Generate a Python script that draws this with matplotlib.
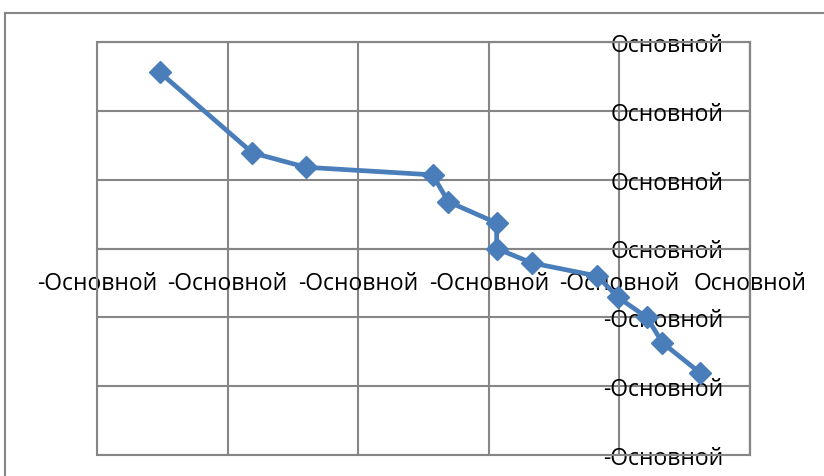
import matplotlib.pyplot as plt
from matplotlib.patches import Rectangle
from matplotlib.lines import Line2D

# points
x_vals = [-4.52, -3.81, -3.40, -2.43, -2.31, -1.94, -1.94, -1.67, -1.17, -1.01, -0.79, -0.67, -0.38]
y_vals = [2.56, 1.39, 1.18, 1.07, 0.68, 0.37, 0.0, -0.21, -0.40, -0.71, -1.00, -1.37, -1.81]

x_ticks = [-5, -4, -3, -2, -1, 0]
x_labels = ['-Основной', '-Основной', '-Основной', '-Основной', '-Основной', 'Основной']
y_ticks = [-3, -2, -1, 0, 1, 2, 3]
y_labels = ['-Основной', '-Основной', '-Основной', 'Основной', 'Основной', 'Основной', 'Основной']

plt.rcParams['font.family'] = ['Open Sans', 'DejaVu Sans']

grid_col = '#868686'
line_col = '#4A7EBB'

fig = plt.figure(figsize=(8.24, 4.77), dpi=100)

# outer chart border: only top and left edges show, the rest is off the picture
bx = 5 / 824
by = 1 - 14 / 477
fig.lines.append(Line2D([bx, 1.0], [by, by], transform=fig.transFigure,
                        color=grid_col, linewidth=1.5))
fig.lines.append(Line2D([bx, bx], [0.0, by], transform=fig.transFigure,
                        color=grid_col, linewidth=1.5))

ax = fig.add_axes([97 / 824, 21 / 477, 653 / 824, 413 / 477])
ax.set_xlim(-5, 0)
ax.set_ylim(-3, 3)

ax.plot(x_vals, y_vals, color=line_col, linewidth=3.4, marker='D',
        markersize=11.5, markerfacecolor=line_col, markeredgecolor=line_col,
        zorder=5, clip_on=False)

ax.set_xticks(x_ticks)
ax.set_xticklabels(x_labels)
ax.set_yticks(y_ticks)
ax.set_yticklabels(y_labels)

ax.grid(True, color=grid_col, linewidth=1.5)
ax.set_axisbelow(True)

# axes cross at zero, like the spreadsheet chart
ax.spines['left'].set_position(('data', 0))
ax.spines['bottom'].set_position(('data', 0))
for s in ax.spines.values():
    s.set_color(grid_col)
    s.set_linewidth(1.5)

ax.add_patch(Rectangle((0, 0), 1, 1, transform=ax.transAxes, fill=False,
                       edgecolor=grid_col, linewidth=1.5, clip_on=False))

ax.tick_params(axis='both', length=0, labelsize=16.5, colors='black')
ax.tick_params(axis='y', pad=19)
ax.tick_params(axis='x', pad=16)

fig.savefig('out.png', dpi=100)
